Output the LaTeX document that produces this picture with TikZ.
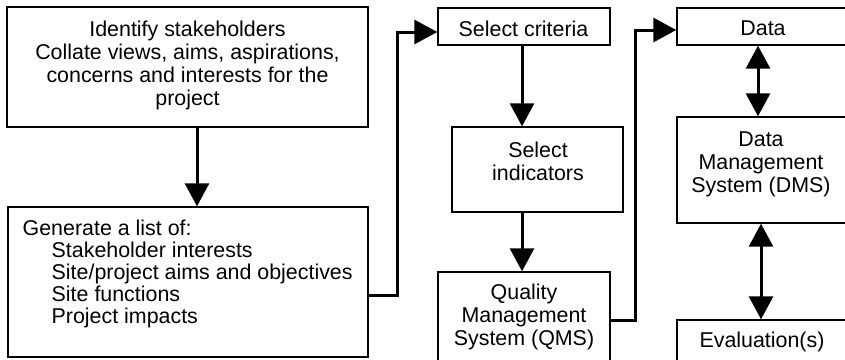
\documentclass[tikz,border=0pt]{standalone}
\usepackage{fontspec}
\setmainfont{Liberation Sans}
\usetikzlibrary{arrows.meta,calc}
\begin{document}
\begin{tikzpicture}[x=1pt,y=-1pt,
  box/.style={draw, line width=1.4pt, inner sep=0pt},
  txt/.style={inner sep=0pt, font=\fontsize{21.4}{23}\selectfont},
  flow/.style={line width=3pt, -{Triangle[length=23pt,width=24pt]}},
  both/.style={line width=3pt, {Triangle[length=23pt,width=24pt]}-{Triangle[length=23pt,width=24pt]}},
]
\useasboundingbox (0,0) rectangle (845,359);
\clip (0,0) rectangle (845,359);

% boxes
\node[box, minimum width=361pt, minimum height=120pt] (A)    at (187.5,67) {};
\node[box, minimum width=360pt, minimum height=150pt] (B)    at (188,282) {};
\node[box, minimum width=172pt, minimum height=37pt]  (SC)   at (524,26.5) {};
\node[box, minimum width=171pt, minimum height=85pt]  (SI)   at (537.5,169.5) {};
\node[box, minimum width=172pt, minimum height=94pt]  (QMS)  at (524,319) {};
\node[box, minimum width=173pt, minimum height=37pt]  (Data) at (763.5,26.5) {};
\node[box, minimum width=173pt, minimum height=106pt] (DMS)  at (763.5,170) {};
\node[box, minimum width=173pt, minimum height=46pt]  (Ev)   at (763.5,343) {};

% texts
\node[txt, align=center] (A-t) at (187.5,65.5)
  {Identify stakeholders\\Collate views, aims, aspirations,\\concerns and interests for the\\project};
\node[txt, align=left, anchor=west, font=\fontsize{21.4}{22}\selectfont] (B-t) at (22.5,274)
  {Generate a list of:\\
   \hspace*{29pt}Stakeholder interests\\
   \hspace*{29pt}Site/project aims and objectives\\
   \hspace*{29pt}Site functions\\
   \hspace*{29pt}Project impacts};
\node[txt] (SC-t) at (523.5,28.5) {Select criteria};
\node[txt, align=center] (SI-t) at (538,161.5) {Select\\indicators};
\node[txt, align=center] (QMS-t) at (524,317) {Quality\\Management\\System (QMS)};
\node[txt] (Data-t) at (763,28.5) {Data};
\node[txt, align=center] (DMS-t) at (761,164) {Data\\Management\\System (DMS)};
\node[txt] (Ev-t) at (762,342) {Evaluation(s)};

% routing points
\coordinate (ax) at (197,0);
\coordinate (cx) at (522,0);
\coordinate (dx1) at (758,0);
\coordinate (dx2) at (761,0);
\coordinate (j1) at (397,295);
\coordinate (j2) at (397,32);
\coordinate (j3) at (635,320);
\coordinate (j4) at (635,30);

% connectors
\draw[flow] (A.south -| ax) -- (B.north -| ax);
\draw[flow] (B.east |- j1) -- (j1) -- (j2) -- (SC.west |- j2);
\draw[flow] (SC.south -| cx) -- (SI.north -| cx);
\draw[flow] (SI.south -| cx) -- (QMS.north -| cx);
\draw[flow] (QMS.east |- j3) -- (j3) -- (j4) -- (Data.west |- j4);
\draw[both] (Data.south -| dx1) -- (DMS.north -| dx1);
\draw[both] (DMS.south -| dx2) -- (Ev.north -| dx2);
\end{tikzpicture}
\end{document}
